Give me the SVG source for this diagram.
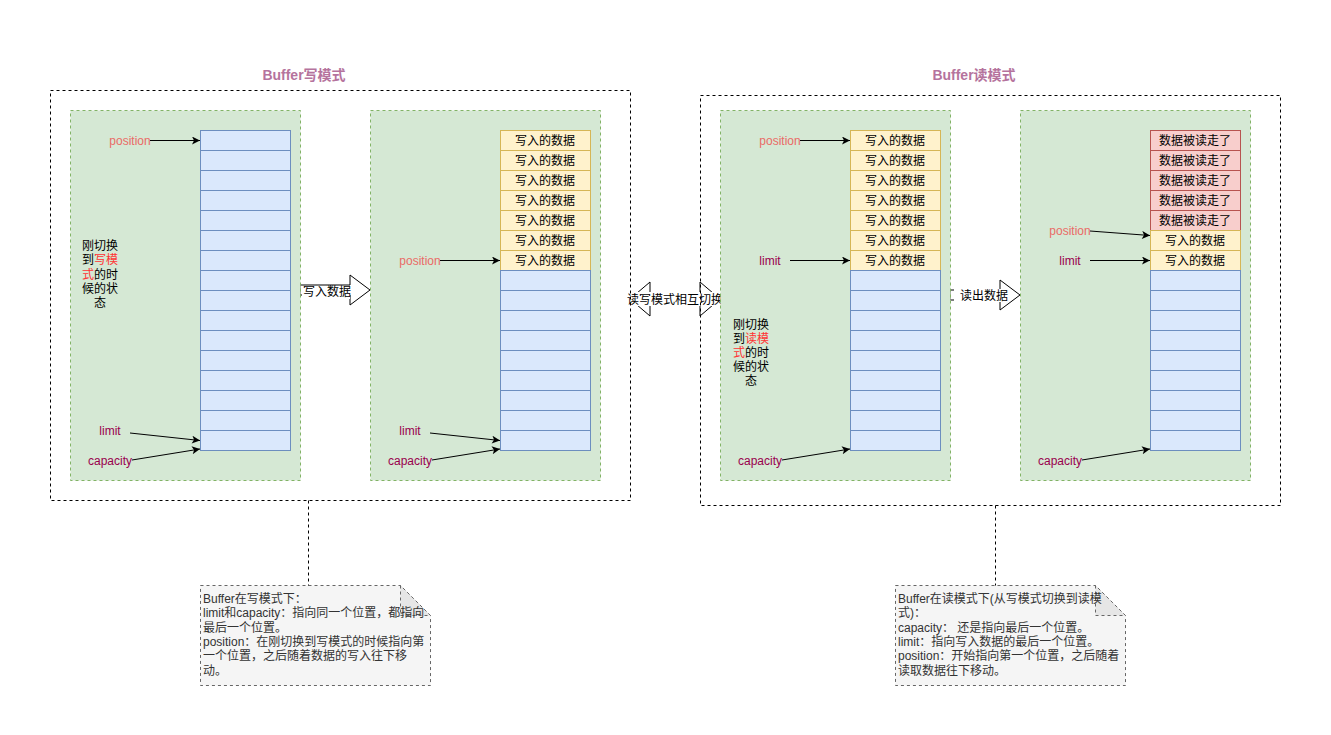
<svg xmlns="http://www.w3.org/2000/svg" width="1331" height="735" viewBox="0 0 1331 735">
<style>
text{font-family:"Liberation Sans","Noto Sans CJK SC",sans-serif;font-size:12px;fill:#000}
.title{font-size:14px;font-weight:bold;fill:#B5739D}
.outer{fill:none;stroke:#000;stroke-dasharray:3 3}
.panel{fill:#d5e8d4;stroke:#82b366;stroke-dasharray:3 3}
.blue{fill:#dae8fc;stroke:#6c8ebf}
.yel{fill:#fff2cc;stroke:#d6b656}
.red{fill:#f8cecc;stroke:#b85450}
.pos{fill:#EA6B66}
.lim{fill:#99004D}
.hl{fill:#FF3333}
.c{text-anchor:middle}
.edge{fill:none;stroke:#000;stroke-width:1}
.blk{fill:#fff;stroke:#000}
.note{fill:#f5f5f5;stroke:#666;stroke-dasharray:3 3}
.fold{fill:#e6e6e6;stroke:#666;stroke-dasharray:3 3}
.nt{fill:#333}
.dash{fill:none;stroke:#000;stroke-dasharray:3 3}
</style>
<defs>
<marker id="arr" markerUnits="userSpaceOnUse" viewBox="0 0 10 10" markerWidth="9" markerHeight="8" refX="10" refY="5" orient="auto">
<path d="M0,0 L10,5 L0,10 L2.5,5 z" fill="#000"/>
</marker>
</defs>
<rect width="1331" height="735" fill="#fff"/>

<g id="transitions">
<g id="write-arrow">
<polygon class="blk" points="300,285 350,285 350,275 370,290 350,305 350,295 300,295"/>
<rect x="302" y="287" width="48" height="12" fill="#fff"/>
<text class="c" x="327" y="296">写入数据</text>
</g>
<g id="switch-arrow">
<polygon class="blk" points="630,299 650,282 650,294 700,294 700,282 720,299 700,316 700,304 650,304 650,316"/>
<rect x="627" y="292" width="96" height="14" fill="#fff"/>
<text class="c" x="675" y="304">读写模式相互切换</text>
</g>
<g id="read-arrow">
<polygon class="blk" points="950,290 1000,290 1000,280 1020,295 1000,310 1000,300 950,300"/>
<rect x="954" y="289" width="56" height="13" fill="#fff"/>
<text class="c" x="984" y="300">读出数据</text>
</g>
</g>

<g id="write-mode">
<text class="title c" x="304" y="80">Buffer写模式</text>
<rect class="outer" x="50.5" y="90.5" width="580" height="410"/>
</g>
<g id="read-mode">
<text class="title c" x="974" y="80">Buffer读模式</text>
<rect class="outer" x="700.5" y="95.5" width="580" height="410"/>
</g>

<g id="panel1">
<rect class="panel" x="70.5" y="110.5" width="230" height="370"/>
<g>
<rect class="blue" x="200.5" y="130.5" width="90" height="20"/>
<rect class="blue" x="200.5" y="150.5" width="90" height="20"/>
<rect class="blue" x="200.5" y="170.5" width="90" height="20"/>
<rect class="blue" x="200.5" y="190.5" width="90" height="20"/>
<rect class="blue" x="200.5" y="210.5" width="90" height="20"/>
<rect class="blue" x="200.5" y="230.5" width="90" height="20"/>
<rect class="blue" x="200.5" y="250.5" width="90" height="20"/>
<rect class="blue" x="200.5" y="270.5" width="90" height="20"/>
<rect class="blue" x="200.5" y="290.5" width="90" height="20"/>
<rect class="blue" x="200.5" y="310.5" width="90" height="20"/>
<rect class="blue" x="200.5" y="330.5" width="90" height="20"/>
<rect class="blue" x="200.5" y="350.5" width="90" height="20"/>
<rect class="blue" x="200.5" y="370.5" width="90" height="20"/>
<rect class="blue" x="200.5" y="390.5" width="90" height="20"/>
<rect class="blue" x="200.5" y="410.5" width="90" height="20"/>
<rect class="blue" x="200.5" y="430.5" width="90" height="20"/>
</g>
<text class="c" x="100" y="249.5">刚切换</text>
<text class="c" x="100" y="264">到<tspan class="hl">写模</tspan></text>
<text class="c" x="100" y="278.5"><tspan class="hl">式</tspan>的时</text>
<text class="c" x="100" y="293">候的状</text>
<text class="c" x="100" y="307">态</text>
<text class="pos c" x="130" y="144.5">position</text>
<text class="lim c" x="110" y="435">limit</text>
<text class="lim c" x="110" y="465">capacity</text>
</g>

<g id="panel2">
<rect class="panel" x="370.5" y="110.5" width="230" height="370"/>
<g>
<rect class="yel" x="500.5" y="130.5" width="90" height="20"/>
<rect class="yel" x="500.5" y="150.5" width="90" height="20"/>
<rect class="yel" x="500.5" y="170.5" width="90" height="20"/>
<rect class="yel" x="500.5" y="190.5" width="90" height="20"/>
<rect class="yel" x="500.5" y="210.5" width="90" height="20"/>
<rect class="yel" x="500.5" y="230.5" width="90" height="20"/>
<rect class="yel" x="500.5" y="250.5" width="90" height="20"/>
<rect class="blue" x="500.5" y="270.5" width="90" height="20"/>
<rect class="blue" x="500.5" y="290.5" width="90" height="20"/>
<rect class="blue" x="500.5" y="310.5" width="90" height="20"/>
<rect class="blue" x="500.5" y="330.5" width="90" height="20"/>
<rect class="blue" x="500.5" y="350.5" width="90" height="20"/>
<rect class="blue" x="500.5" y="370.5" width="90" height="20"/>
<rect class="blue" x="500.5" y="390.5" width="90" height="20"/>
<rect class="blue" x="500.5" y="410.5" width="90" height="20"/>
<rect class="blue" x="500.5" y="430.5" width="90" height="20"/>
<text class="c" x="545" y="144.5">写入的数据</text>
<text class="c" x="545" y="164.5">写入的数据</text>
<text class="c" x="545" y="184.5">写入的数据</text>
<text class="c" x="545" y="204.5">写入的数据</text>
<text class="c" x="545" y="224.5">写入的数据</text>
<text class="c" x="545" y="244.5">写入的数据</text>
<text class="c" x="545" y="264.5">写入的数据</text>
</g>
<text class="pos c" x="420" y="265">position</text>
<text class="lim c" x="410" y="435">limit</text>
<text class="lim c" x="410" y="465">capacity</text>
</g>

<g id="panel3">
<rect class="panel" x="720.5" y="110.5" width="230" height="370"/>
<g>
<rect class="yel" x="850.5" y="130.5" width="90" height="20"/>
<rect class="yel" x="850.5" y="150.5" width="90" height="20"/>
<rect class="yel" x="850.5" y="170.5" width="90" height="20"/>
<rect class="yel" x="850.5" y="190.5" width="90" height="20"/>
<rect class="yel" x="850.5" y="210.5" width="90" height="20"/>
<rect class="yel" x="850.5" y="230.5" width="90" height="20"/>
<rect class="yel" x="850.5" y="250.5" width="90" height="20"/>
<rect class="blue" x="850.5" y="270.5" width="90" height="20"/>
<rect class="blue" x="850.5" y="290.5" width="90" height="20"/>
<rect class="blue" x="850.5" y="310.5" width="90" height="20"/>
<rect class="blue" x="850.5" y="330.5" width="90" height="20"/>
<rect class="blue" x="850.5" y="350.5" width="90" height="20"/>
<rect class="blue" x="850.5" y="370.5" width="90" height="20"/>
<rect class="blue" x="850.5" y="390.5" width="90" height="20"/>
<rect class="blue" x="850.5" y="410.5" width="90" height="20"/>
<rect class="blue" x="850.5" y="430.5" width="90" height="20"/>
<text class="c" x="895" y="144.5">写入的数据</text>
<text class="c" x="895" y="164.5">写入的数据</text>
<text class="c" x="895" y="184.5">写入的数据</text>
<text class="c" x="895" y="204.5">写入的数据</text>
<text class="c" x="895" y="224.5">写入的数据</text>
<text class="c" x="895" y="244.5">写入的数据</text>
<text class="c" x="895" y="264.5">写入的数据</text>
</g>
<text class="c" x="751" y="328.5">刚切换</text>
<text class="c" x="751" y="342.5">到<tspan class="hl">读模</tspan></text>
<text class="c" x="751" y="356.5"><tspan class="hl">式</tspan>的时</text>
<text class="c" x="751" y="370.5">候的状</text>
<text class="c" x="751" y="384.5">态</text>
<text class="pos c" x="780" y="144.5">position</text>
<text class="lim c" x="770" y="265">limit</text>
<text class="lim c" x="760" y="465">capacity</text>
</g>

<g id="panel4">
<rect class="panel" x="1020.5" y="110.5" width="230" height="370"/>
<g>
<rect class="red" x="1150.5" y="130.5" width="90" height="20"/>
<rect class="red" x="1150.5" y="150.5" width="90" height="20"/>
<rect class="red" x="1150.5" y="170.5" width="90" height="20"/>
<rect class="red" x="1150.5" y="190.5" width="90" height="20"/>
<rect class="red" x="1150.5" y="210.5" width="90" height="20"/>
<rect class="yel" x="1150.5" y="230.5" width="90" height="20"/>
<rect class="yel" x="1150.5" y="250.5" width="90" height="20"/>
<rect class="blue" x="1150.5" y="270.5" width="90" height="20"/>
<rect class="blue" x="1150.5" y="290.5" width="90" height="20"/>
<rect class="blue" x="1150.5" y="310.5" width="90" height="20"/>
<rect class="blue" x="1150.5" y="330.5" width="90" height="20"/>
<rect class="blue" x="1150.5" y="350.5" width="90" height="20"/>
<rect class="blue" x="1150.5" y="370.5" width="90" height="20"/>
<rect class="blue" x="1150.5" y="390.5" width="90" height="20"/>
<rect class="blue" x="1150.5" y="410.5" width="90" height="20"/>
<rect class="blue" x="1150.5" y="430.5" width="90" height="20"/>
<text class="c" x="1195" y="144.5">数据被读走了</text>
<text class="c" x="1195" y="164.5">数据被读走了</text>
<text class="c" x="1195" y="184.5">数据被读走了</text>
<text class="c" x="1195" y="204.5">数据被读走了</text>
<text class="c" x="1195" y="224.5">数据被读走了</text>
<text class="c" x="1195" y="244.5">写入的数据</text>
<text class="c" x="1195" y="264.5">写入的数据</text>
</g>
<text class="pos c" x="1070" y="235">position</text>
<text class="lim c" x="1070" y="265">limit</text>
<text class="lim c" x="1060" y="465">capacity</text>
</g>

<g id="note-write">
<path class="note" d="M200.5,585.5 H400.5 L430.5,615.5 V685.5 H200.5 Z"/>
<path class="fold" d="M400.5,585.5 V615.5 H430.5 Z"/>
<text class="nt" x="203" y="603">Buffer在写模式下：</text>
<text class="nt" x="203" y="617">limit和capacity：指向同一个位置，都指向</text>
<text class="nt" x="203" y="632">最后一个位置。</text>
<text class="nt" x="203" y="646">position：在刚切换到写模式的时候指向第</text>
<text class="nt" x="203" y="660">一个位置，之后随着数据的写入往下移</text>
<text class="nt" x="203" y="675">动。</text>
</g>
<g id="note-read">
<path class="note" d="M895.5,585.5 H1095.5 L1125.5,615.5 V685.5 H895.5 Z"/>
<path class="fold" d="M1095.5,585.5 V615.5 H1125.5 Z"/>
<text class="nt" x="898" y="603">Buffer在读模式下(从写模式切换到读模</text>
<text class="nt" x="898" y="617">式)：</text>
<text class="nt" x="898" y="632">capacity： 还是指向最后一个位置。</text>
<text class="nt" x="898" y="646">limit：指向写入数据的最后一个位置。</text>
<text class="nt" x="898" y="660">position：开始指向第一个位置，之后随着</text>
<text class="nt" x="898" y="675">读取数据往下移动。</text>
</g>

<g id="connectors">
<line class="dash" x1="308.5" y1="500.5" x2="308.5" y2="585.5"/>
<line class="dash" x1="995.5" y1="505.5" x2="995.5" y2="585.5"/>
<line class="edge" x1="150" y1="140.5" x2="200" y2="140.5" marker-end="url(#arr)"/>
<line class="edge" x1="130" y1="433" x2="200" y2="440.5" marker-end="url(#arr)"/>
<line class="edge" x1="132" y1="460" x2="200" y2="449" marker-end="url(#arr)"/>
<line class="edge" x1="440" y1="260.5" x2="500" y2="260.5" marker-end="url(#arr)"/>
<line class="edge" x1="430" y1="433" x2="500" y2="440.5" marker-end="url(#arr)"/>
<line class="edge" x1="432" y1="460" x2="500" y2="449" marker-end="url(#arr)"/>
<line class="edge" x1="800" y1="140.5" x2="850" y2="140.5" marker-end="url(#arr)"/>
<line class="edge" x1="790" y1="260.5" x2="850" y2="260.5" marker-end="url(#arr)"/>
<line class="edge" x1="782" y1="460" x2="850" y2="449" marker-end="url(#arr)"/>
<line class="edge" x1="1090" y1="231" x2="1150" y2="235.5" marker-end="url(#arr)"/>
<line class="edge" x1="1090" y1="260.5" x2="1150" y2="260.5" marker-end="url(#arr)"/>
<line class="edge" x1="1082" y1="460" x2="1150" y2="449" marker-end="url(#arr)"/>
</g>
</svg>
